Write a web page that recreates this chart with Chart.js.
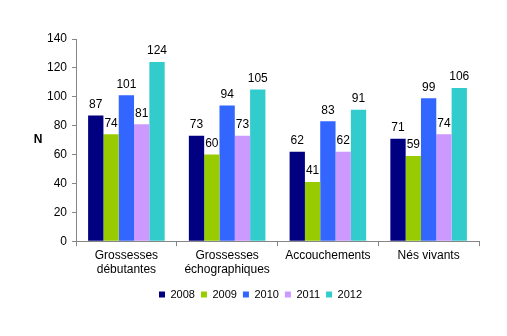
<!DOCTYPE html>
<html>
<head>
<meta charset="utf-8">
<script src="https://cdn.jsdelivr.net/npm/chart.js@4/dist/chart.umd.min.js"></script>
<style>
  html, body { margin: 0; padding: 0; background: #fff; }
  #wrap { width: 507px; height: 336px; }
</style>
</head>
<body>
<div id="wrap"><canvas id="chart"></canvas></div>
<script>
const categories = [["Grossesses", "débutantes"], ["Grossesses", "échographiques"], ["Accouchements"], ["Nés vivants"]];
const years = ["2008", "2009", "2010", "2011", "2012"];
const v2008 = [87, 73, 62, 71];
const v2009 = [74, 60, 41, 59];
const v2010 = [101, 94, 83, 99];
const v2011 = [81, 73, 62, 74];
const v2012 = [124, 105, 91, 106];
const colors = ["#000080", "#99cc00", "#3366ff", "#cc99ff", "#33cccc"];

const series = [v2008, v2009, v2010, v2011, v2012];
const FONT = '"Liberation Sans", Arial, sans-serif';

// draws the value on top of each bar + the horizontal "N" axis title
const valueLabels = {
    id: 'valueLabels',
    afterDatasetsDraw(chart) {
        const ctx = chart.ctx;
        ctx.save();
        ctx.font = '12px ' + FONT;
        ctx.fillStyle = '#000';
        ctx.textAlign = 'center';
        ctx.textBaseline = 'bottom';
        chart.data.datasets.forEach((ds, i) => {
            chart.getDatasetMeta(i).data.forEach((bar, j) => {
                ctx.fillText(ds.data[j], bar.x, bar.y - 5);
            });
        });
        const area = chart.chartArea;
        ctx.font = 'bold 12px ' + FONT;
        ctx.textBaseline = 'middle';
        ctx.fillText('N', 38, (area.top + area.bottom) / 2);
        ctx.restore();
    }
};

new Chart(document.getElementById("chart"), {
    type: 'bar',
    data: {
        labels: categories,
        datasets: years.map((y, i) => ({
            label: y,
            data: series[i],
            backgroundColor: colors[i],
            borderWidth: 0
        }))
    },
    options: {
        responsive: true,
        maintainAspectRatio: false,
        animation: false,
        datasets: { bar: { categoryPercentage: 0.76, barPercentage: 1.0 } },
        layout: { padding: { top: 39, right: 28, left: 42, bottom: 26 } },
        plugins: {
            legend: {
                position: 'bottom',
                labels: {
                    boxWidth: 6, boxHeight: 6, padding: 6,
                    color: '#000',
                    font: { family: FONT, size: 11 }
                }
            },
            tooltip: { enabled: false }
        },
        scales: {
            x: {
                afterFit(scale) { scale.height += 4; },
                border: { color: '#868686', width: 1 },
                grid: { drawOnChartArea: false, color: '#868686', tickLength: 5 },
                ticks: {
                    color: '#000',
                    font: { family: FONT, size: 12 },
                    maxRotation: 0, padding: 2
                }
            },
            y: {
                min: 0, max: 140,
                border: { color: '#868686', width: 1 },
                grid: { drawOnChartArea: false, color: '#868686', tickLength: 4 },
                ticks: {
                    stepSize: 20,
                    color: '#000',
                    font: { family: FONT, size: 12 },
                    padding: 5
                }
            }
        }
    },
    plugins: [valueLabels]
});
</script>
</body>
</html>
